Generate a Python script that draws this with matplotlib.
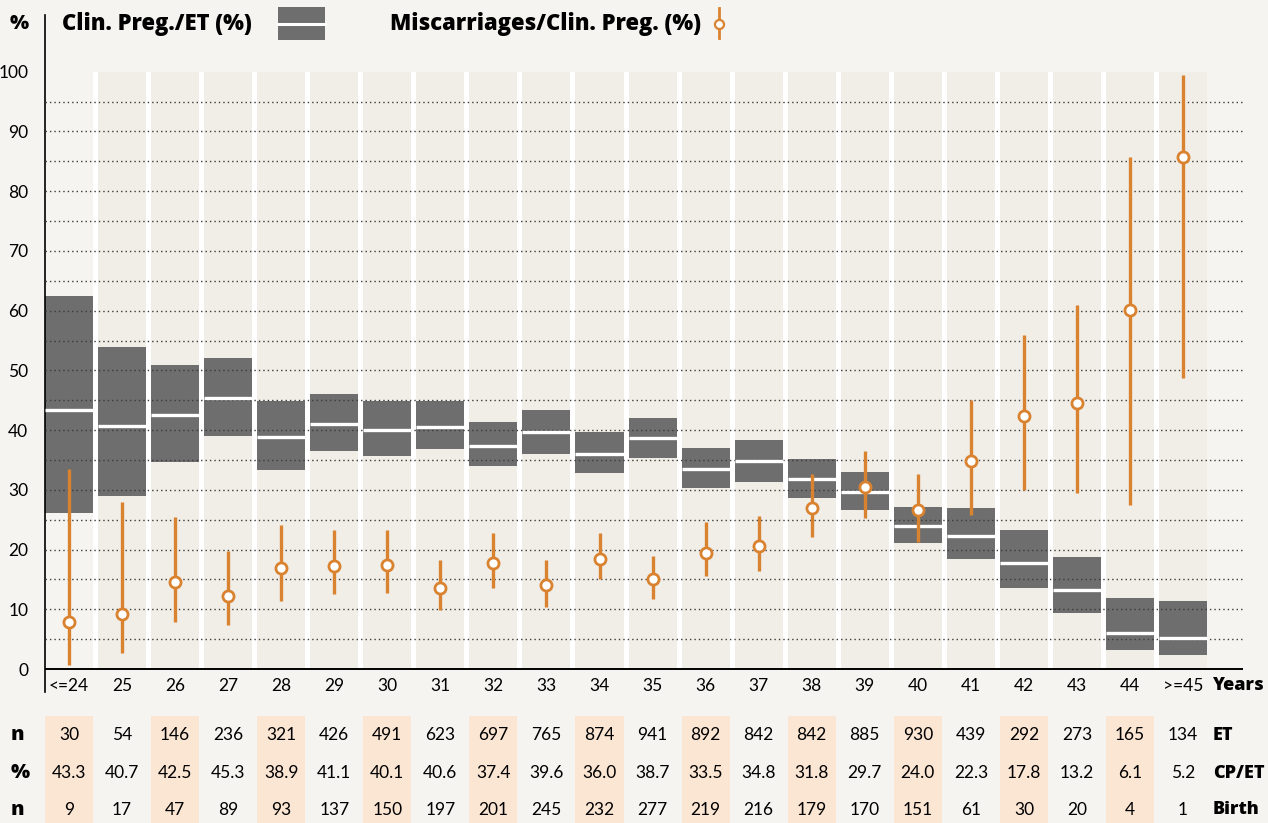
import matplotlib
matplotlib.use("Agg")
import matplotlib.pyplot as plt
import matplotlib.font_manager as fm
from matplotlib.patches import Rectangle
from matplotlib.lines import Line2D
import matplotlib.transforms as mtransforms

# ---------------- data ----------------
ages = ['<=24', '25', '26', '27', '28', '29', '30', '31', '32', '33', '34',
        '35', '36', '37', '38', '39', '40', '41', '42', '43', '44', '>=45']
et_n = [30, 54, 146, 236, 321, 426, 491, 623, 697, 765, 874,
        941, 892, 842, 842, 885, 930, 439, 292, 273, 165, 134]
cp_pct = [43.3, 40.7, 42.5, 45.3, 38.9, 41.1, 40.1, 40.6, 37.4, 39.6, 36.0,
          38.7, 33.5, 34.8, 31.8, 29.7, 24.0, 22.3, 17.8, 13.2, 6.1, 5.2]
birth_n = [9, 17, 47, 89, 93, 137, 150, 197, 201, 245, 232,
           277, 219, 216, 179, 170, 151, 61, 30, 20, 4, 1]
cp_lo = [26.1, 29.0, 34.7, 39.0, 33.3, 36.5, 35.7, 36.9, 34.0, 36.0, 32.8,
         35.4, 30.3, 31.3, 28.6, 26.6, 21.1, 18.5, 13.6, 9.3, 3.1, 2.4]
cp_hi = [62.5, 53.9, 50.9, 52.1, 44.9, 46.1, 44.9, 44.8, 41.4, 43.4, 39.7,
         42.0, 37.0, 38.4, 35.2, 33.0, 27.1, 27.0, 23.3, 18.8, 11.9, 11.4]
mc = [7.8, 9.2, 14.6, 12.2, 16.9, 17.2, 17.4, 13.5, 17.8, 14.1, 18.5,
      15.0, 19.5, 20.6, 27.0, 30.5, 26.6, 34.8, 42.4, 44.5, 60.1, 85.8]
mc_lo = [0.6, 2.6, 7.9, 7.3, 11.4, 12.5, 12.8, 9.9, 13.6, 10.4, 15.0,
         11.7, 15.6, 16.4, 22.1, 25.3, 21.3, 25.8, 30.0, 29.4, 27.4, 48.8]
mc_hi = [33.5, 28.0, 25.5, 19.8, 24.1, 23.3, 23.2, 18.3, 22.8, 18.3, 22.8,
         18.9, 24.6, 25.6, 32.7, 36.5, 32.7, 45.1, 55.9, 61.0, 85.8, 99.5]
y_ticks = [0, 10, 20, 30, 40, 50, 60, 70, 80, 90, 100]
row_labels = ['n', '%', 'n']
row_names = ['ET', 'CP/ET', 'Birth']

# ---------------- style ----------------
names = {f.name for f in fm.fontManager.ttflist}
FONT = 'Lato' if 'Lato' in names else 'DejaVu Sans'
BFONT = 'Open Sans' if 'Open Sans' in names else FONT
plt.rcParams['font.family'] = [FONT, 'DejaVu Sans']

BG = '#f5f4f0'
COL = '#f1eee8'
GRAY = '#6e6e6e'
ORANGE = '#d9822f'
HIL = '#fbe5d3'

W, H = 1268, 823
fig = plt.figure(figsize=(W / 100, H / 100), dpi=100, facecolor=BG)

def fx(px):
    return px / W

def fy(py):
    return 1 - py / H

def btext(px, py, s, size, ha='left'):
    fig.text(fx(px), fy(py), s, ha=ha, va='center', fontsize=size,
             fontweight='heavy', family=[BFONT, 'DejaVu Sans'])

# axes: left 45px, right 1243px, top 15px, bottom 692px
ax = fig.add_axes([fx(45), fy(692), fx(1243) - fx(45), fy(15) - fy(692)])
ax.set_facecolor(BG)
n = len(ages)
x = list(range(n))
half = 0.4525
ax.set_xlim(-half, 22.13)
ax.set_ylim(-3.85, 109.5)

# white background under columns (gaps)
ax.add_patch(Rectangle((-half, 0), (n - 1) + 2 * half, 100, facecolor='white',
                       edgecolor='none', zorder=0))
# column backgrounds
colcolors = [BG] + [COL] * (n - 1)
ax.bar(x, [100] * n, width=0.905, bottom=0, color=colcolors, edgecolor='none', zorder=1)

# gray CI boxes
heights = [h - l for h, l in zip(cp_hi, cp_lo)]
ax.bar(x, heights, width=0.905, bottom=cp_lo, color=GRAY, edgecolor='none', zorder=2)

# dotted grid
for gv in range(5, 100, 5):
    ax.axhline(gv, color='#3a3a3a', lw=1.0, ls=(0, (1, 2.2)), zorder=3)

# mean white lines
ax.hlines(cp_pct, [i - half for i in x], [i + half for i in x],
          color='white', lw=2.4, zorder=4)

# orange error bars
ax.vlines(x, mc_lo, mc_hi, color=ORANGE, lw=2.4, zorder=5)
ax.plot(x, mc, ls='none', marker='o', ms=8, mfc='white', mec=ORANGE, mew=2, zorder=6)

# axes lines
ax.axhline(0, color='black', lw=1.4, zorder=7)
for s in ['top', 'right', 'bottom']:
    ax.spines[s].set_visible(False)
ax.spines['left'].set_linewidth(1.2)
ax.set_xticks([])
ax.set_yticks(y_ticks)
ax.set_yticklabels([str(v) for v in y_ticks], fontsize=12.5)
ax.tick_params(axis='y', length=0, pad=12)

# x tick labels
for i, lab in enumerate(ages):
    ax.text(i, -2.85, lab, ha='center', va='center', fontsize=12.5, clip_on=False)
btext(1213, 686, 'Years', 13)

# table
trans = mtransforms.blended_transform_factory(ax.transData, fig.transFigure)
for i in range(0, n, 2):
    ax.add_patch(Rectangle((i - half, 0), 2 * half, fy(716), transform=trans,
                           facecolor=HIL, edgecolor='none', clip_on=False, zorder=0))
rows = [et_n, cp_pct, birth_n]
row_y = [735, 773, 810]
for r, (vals, yy) in enumerate(zip(rows, row_y)):
    for i, v in enumerate(vals):
        s = f'{v:.1f}' if r == 1 else str(v)
        ax.text(i, fy(yy), s, transform=trans, ha='center', va='center', fontsize=12.5,
                clip_on=False)
    btext(11, yy, row_labels[r], 14.5)
    btext(1213, yy, row_names[r], 13)

# legend / header
btext(10, 24, '%', 14.5)
btext(62, 24, 'Clin. Preg./ET (%)', 15.8)
fig.patches.append(Rectangle((fx(278), fy(40)), fx(325) - fx(278), fy(7) - fy(40),
                             transform=fig.transFigure, facecolor=GRAY, edgecolor='none'))
fig.lines.append(Line2D([fx(278), fx(325)], [fy(24), fy(24)], transform=fig.transFigure,
                        color='white', lw=2.2))
btext(390, 24, 'Miscarriages/Clin. Preg. (%)', 15.8)
fig.lines.append(Line2D([fx(719), fx(719)], [fy(38), fy(8)], transform=fig.transFigure,
                        color=ORANGE, lw=2))
fig.lines.append(Line2D([fx(719)], [fy(24)], transform=fig.transFigure, ls='none',
                        marker='o', ms=6.5, mfc='white', mec=ORANGE, mew=1.6))

fig.savefig('out.png', dpi=100, facecolor=BG)
